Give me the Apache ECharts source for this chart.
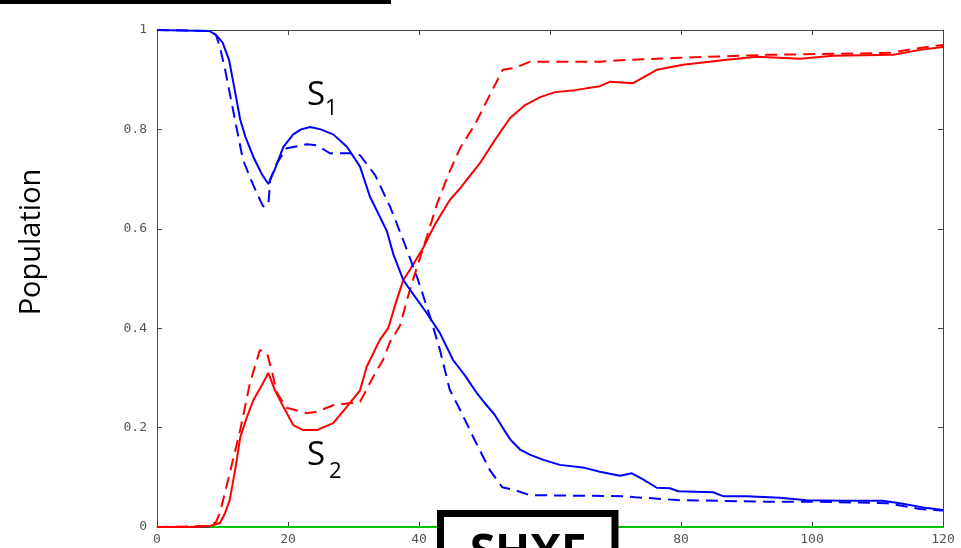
<!DOCTYPE html>
<html>
<head>
<meta charset="utf-8">
<script src="https://cdn.jsdelivr.net/npm/echarts@6/dist/echarts.min.js"></script>
<style>html,body{margin:0;padding:0;background:#fff}#c{width:961px;height:548px}</style>
</head>
<body>
<div id="c"></div>
<script>
// x tick labels and y tick labels come from the axes (0..120 step 20, 0..1 step 0.2)
var xTicks = [0, 20, 40, 60, 80, 100, 120];
var yTicks = [0, 0.2, 0.4, 0.6, 0.8, 1];

// S1 (blue), solid
var s1Solid = [[0,1],[8,0.998],[9,0.99],[10,0.975],[11,0.94],[12,0.87],[12.7,0.82],[13.5,0.785],[14.7,0.745],[16,0.71],[17,0.69],[18,0.72],[19.3,0.765],[20.8,0.79],[22,0.80],[23.4,0.805],[25,0.80],[26.9,0.79],[29,0.765],[31,0.725],[32.5,0.665],[34,0.625],[35.1,0.595],[36.1,0.548],[37.6,0.497],[39.3,0.465],[41.2,0.43],[43.2,0.39],[45.2,0.336],[47,0.305],[48.8,0.27],[50,0.25],[51.6,0.225],[53,0.195],[54,0.175],[55.5,0.155],[57,0.145],[59,0.135],[61.5,0.125],[65.3,0.119],[67.6,0.111],[70.7,0.103],[72.5,0.108],[74.2,0.096],[76.3,0.079],[78.3,0.078],[79.6,0.072],[84.9,0.07],[86.4,0.062],[90,0.062],[95.1,0.059],[99.2,0.054],[105,0.053],[110.8,0.053],[113.4,0.048],[117.6,0.038],[120,0.034]];
// S1 (blue), dashed
var s1Dashed = [[0,1],[8,0.998],[9,0.99],[9.6,0.966],[10.4,0.92],[11.6,0.84],[13.1,0.74],[14.3,0.70],[15.3,0.67],[16.2,0.645],[17,0.648],[17.3,0.70],[18.3,0.732],[19.8,0.762],[22.9,0.77],[24.4,0.768],[26.4,0.752],[29.9,0.752],[31,0.748],[33.3,0.708],[35.6,0.644],[37.6,0.577],[39.7,0.503],[41.7,0.423],[43.2,0.356],[44.7,0.276],[46.3,0.235],[48.5,0.175],[50.8,0.115],[52.7,0.08],[54.7,0.074],[56.9,0.064],[71.5,0.062],[73,0.06],[79.8,0.054],[93.1,0.051],[100.2,0.051],[111.5,0.048],[116.5,0.036],[120,0.033]];
// S2 (red), solid
var s2Solid = [[0,0],[5,0],[8.1,0.002],[9.6,0.008],[10.3,0.025],[11.1,0.054],[12,0.12],[12.7,0.18],[13.7,0.22],[14.7,0.255],[16,0.285],[17,0.31],[18,0.275],[19.3,0.242],[20.8,0.205],[22.3,0.195],[24.4,0.195],[26.9,0.209],[29,0.242],[31,0.275],[32,0.322],[34,0.376],[35.3,0.40],[36.6,0.457],[37.6,0.497],[38.6,0.517],[40.6,0.561],[42.5,0.61],[44.7,0.658],[46.3,0.682],[49.3,0.732],[51.6,0.779],[53.9,0.823],[56.2,0.849],[58.5,0.865],[60.8,0.875],[63.8,0.879],[67.6,0.887],[69.2,0.896],[72.7,0.893],[76.3,0.92],[80.3,0.93],[87,0.94],[91.6,0.946],[98.2,0.942],[103.2,0.948],[112.4,0.95],[116.5,0.96],[120,0.966]];
// S2 (red), dashed
var s2Dashed = [[0,0],[8,0.002],[9,0.01],[9.6,0.028],[11.1,0.108],[12.7,0.195],[14.2,0.29],[15.7,0.356],[16.8,0.35],[17.6,0.31],[18.3,0.27],[19.8,0.24],[22.9,0.229],[24.4,0.232],[26.9,0.245],[31,0.252],[33,0.302],[34.5,0.336],[35.5,0.37],[37.1,0.405],[38.6,0.477],[39.7,0.523],[41.4,0.592],[42.7,0.648],[44.5,0.71],[46.3,0.763],[48.5,0.809],[50.8,0.869],[52.8,0.92],[54.7,0.924],[56.9,0.936],[67.6,0.936],[71.8,0.94],[79.8,0.944],[93.1,0.95],[103.2,0.952],[111.9,0.954],[116.5,0.964],[120,0.97]];
// third population (green), stays at zero
var s3 = [[8,0],[120,0]];

var chart = echarts.init(document.getElementById('c'), null, {renderer: 'canvas'});
var axisCol = '#444';
var lblStyle = {color: '#555', fontFamily: 'DejaVu Sans Mono', fontSize: 13};
function line(data, color, dashed, z) {
  return {type: 'line', data: data, symbol: 'none', z: z, animation: false,
    lineStyle: {color: color, width: 2, type: dashed ? [12, 7] : 'solid'}};
}
chart.setOption({
  animation: false,
  backgroundColor: '#fff',
  grid: {left: 157, right: 18, top: 30, bottom: 21},
  xAxis: [
    {type: 'value', min: 0, max: 120, interval: 20, position: 'bottom',
      axisLine: {show: true, onZero: false, lineStyle: {color: axisCol}},
      axisTick: {inside: true, length: 5, lineStyle: {color: axisCol}},
      splitLine: {show: false}, axisLabel: Object.assign({margin: 6}, lblStyle)},
    {type: 'value', min: 0, max: 120, interval: 20, position: 'top',
      axisLine: {show: true, onZero: false, lineStyle: {color: axisCol}},
      axisTick: {inside: true, length: 5, lineStyle: {color: axisCol}},
      splitLine: {show: false}, axisLabel: {show: false}}
  ],
  yAxis: [
    {type: 'value', min: 0, max: 1, interval: 0.2, position: 'left',
      axisLine: {show: true, onZero: false, lineStyle: {color: axisCol}},
      axisTick: {show: true, inside: true, length: 5, lineStyle: {color: axisCol}},
      splitLine: {show: false}, axisLabel: Object.assign({margin: 10}, lblStyle)},
    {type: 'value', min: 0, max: 1, interval: 0.2, position: 'right',
      axisLine: {show: true, onZero: false, lineStyle: {color: axisCol}},
      axisTick: {show: true, inside: true, length: 5, lineStyle: {color: axisCol}},
      splitLine: {show: false}, axisLabel: {show: false}}
  ],
  series: [
    line(s3, '#00c800', false, 1),
    line(s2Solid, '#ff0000', false, 2),
    line(s2Dashed, '#ff0000', true, 2),
    line(s1Solid, '#0000ff', false, 3),
    line(s1Dashed, '#0000ff', true, 3)
  ],
  graphic: [
    {type: 'rect', shape: {x: 0, y: 0, width: 391, height: 4}, style: {fill: '#000'}, z: 100},
    {type: 'text', x: 32, y: 242, rotation: Math.PI / 2,
      style: {text: 'Population', font: '29px "Open Sans"', fill: '#000', align: 'center', verticalAlign: 'middle'}, z: 100},
    {type: 'text', x: 307, y: 96, style: {text: 'S', font: '33px "Open Sans"', fill: '#000', align: 'left', verticalAlign: 'middle'}, z: 100},
    {type: 'text', x: 325, y: 109, style: {text: '1', font: '22px "Open Sans"', fill: '#000', align: 'left', verticalAlign: 'middle'}, z: 100},
    {type: 'text', x: 307, y: 456, style: {text: 'S', font: '33px "Open Sans"', fill: '#000', align: 'left', verticalAlign: 'middle'}, z: 100},
    {type: 'text', x: 329, y: 472, style: {text: '2', font: '22px "Open Sans"', fill: '#000', align: 'left', verticalAlign: 'middle'}, z: 100},
    {type: 'rect', shape: {x: 440.5, y: 513.5, width: 174.5, height: 60}, style: {fill: '#fff', stroke: '#000', lineWidth: 7}, z: 100},
    {type: 'text', x: 528, y: 554, style: {text: 'SHXF', font: 'bold 46px "Open Sans"', fill: '#000', align: 'center', verticalAlign: 'middle'}, z: 101}
  ]
});
</script>
</body>
</html>
